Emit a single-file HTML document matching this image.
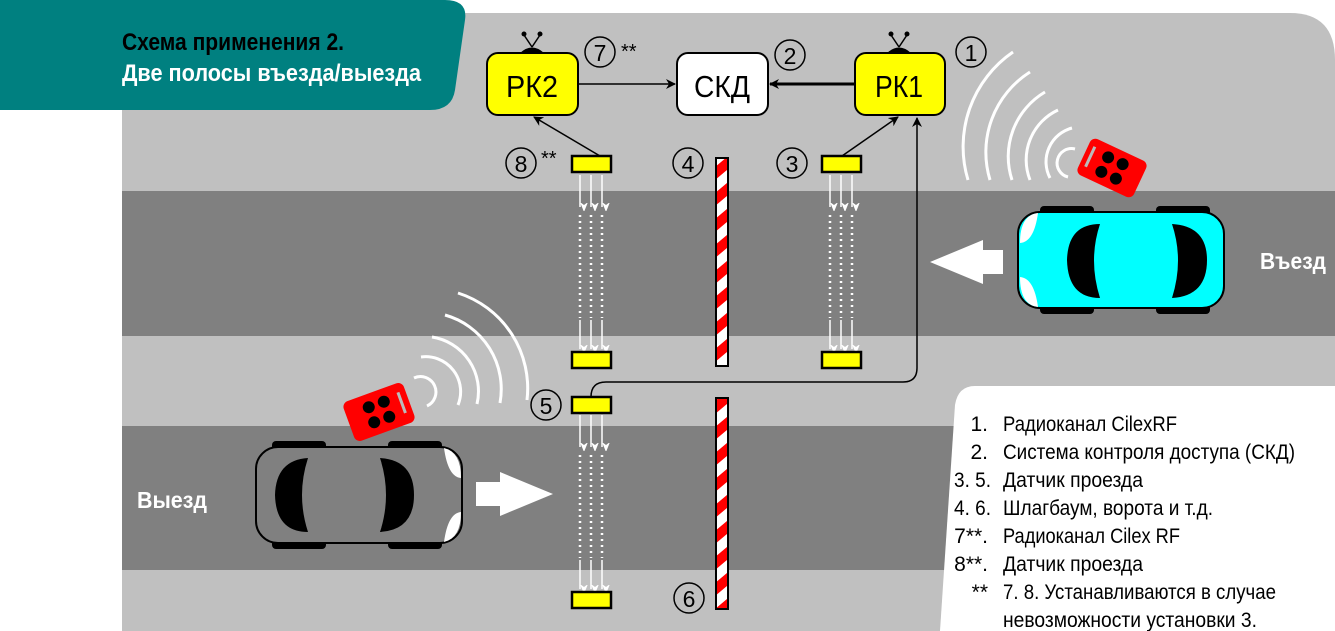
<!DOCTYPE html>
<html><head><meta charset="utf-8"><style>
html,body{margin:0;padding:0;background:#fff;}
svg{display:block;}
text{font-family:"Liberation Sans Narrow","Liberation Sans",sans-serif;}
</style></head><body>
<svg width="1335" height="631" viewBox="0 0 1335 631" xmlns="http://www.w3.org/2000/svg">
<defs>
<marker id="ah" markerWidth="10" markerHeight="10" refX="9" refY="5" orient="auto" markerUnits="userSpaceOnUse"><path d="M0,0 L10,5 L0,10 L3,5 Z" fill="#000"/></marker>
<marker id="wh" markerWidth="8" markerHeight="10" refX="4" refY="9" orient="auto" markerUnits="userSpaceOnUse"><path d="M0,0 L4,10 L8,0 L4,3 Z" fill="#fff" transform="rotate(-90 4 5)"/></marker>
<pattern id="stripe" width="13" height="26" patternUnits="userSpaceOnUse" patternTransform="skewY(-40)"><rect width="13" height="13" fill="#fff"/><rect y="13" width="13" height="13" fill="#f00"/></pattern>
</defs>
<path d="M122,13 H1290 Q1335,13 1335,60 V631 H122 Z" fill="#c0c0c0"/>
<rect x="122" y="191" width="1213" height="145" fill="#808080"/>
<rect x="122" y="426" width="1213" height="144" fill="#808080"/>
<path d="M975,386 H1335 V631 H940 L955,405 Q958,386 975,386 Z" fill="#fff"/>
<path d="M0,0 H445 Q468,0 465,20 L455,90 Q452,110 430,110 H0 Z" fill="#008080"/>
<text x="122" y="50" font-size="24" font-weight="bold" fill="#000" textLength="222" lengthAdjust="spacingAndGlyphs">Схема применения 2.</text>
<text x="122" y="81" font-size="24" font-weight="bold" fill="#fff" textLength="299" lengthAdjust="spacingAndGlyphs">Две полосы въезда/выезда</text>

<line x1="578" y1="84" x2="675" y2="84" stroke="#000" stroke-width="1.5" marker-end="url(#ah)"/>
<line x1="855" y1="84" x2="770" y2="84" stroke="#000" stroke-width="3" marker-end="url(#ah)"/>
<line x1="600" y1="156" x2="534" y2="117" stroke="#000" stroke-width="1.5" marker-end="url(#ah)"/>
<line x1="842" y1="156" x2="898" y2="117" stroke="#000" stroke-width="1.5" marker-end="url(#ah)"/>
<path d="M591,397 Q591,382 606,382 H903 Q917,382 917,368 V118" fill="none" stroke="#000" stroke-width="1.5" marker-end="url(#ah)"/>

<g>
<path d="M520,53 Q532,42 544,53 Z" fill="#000"/><line x1="532" y1="47" x2="524" y2="35" stroke="#000" stroke-width="1.5"/><line x1="532" y1="47" x2="540" y2="35" stroke="#000" stroke-width="1.5"/><circle cx="524" cy="34" r="2.5"/><circle cx="540" cy="34" r="2.5"/>
<rect x="487" y="53" width="91" height="62" rx="11" fill="#ff0" stroke="#000" stroke-width="2"/>
<text x="506" y="97" font-size="31" textLength="52" lengthAdjust="spacingAndGlyphs">РК2</text></g>
<g>
<rect x="677" y="53" width="91" height="62" rx="11" fill="#fff" stroke="#000" stroke-width="2"/>
<text x="694" y="97" font-size="31" textLength="56" lengthAdjust="spacingAndGlyphs">СКД</text></g>
<g>
<path d="M887,53 Q899,42 911,53 Z" fill="#000"/><line x1="899" y1="47" x2="891" y2="35" stroke="#000" stroke-width="1.5"/><line x1="899" y1="47" x2="907" y2="35" stroke="#000" stroke-width="1.5"/><circle cx="891" cy="34" r="2.5"/><circle cx="907" cy="34" r="2.5"/>
<rect x="855" y="53" width="90" height="62" rx="11" fill="#ff0" stroke="#000" stroke-width="2"/>
<text x="875" y="97" font-size="31" textLength="48" lengthAdjust="spacingAndGlyphs">РК1</text></g>

<g fill="none" stroke="#000" stroke-width="1.5">
<circle cx="600" cy="52" r="15"/>
<circle cx="790" cy="55" r="15"/>
<circle cx="971" cy="52" r="15"/>
<circle cx="521" cy="163" r="15"/>
<circle cx="688" cy="163" r="15"/>
<circle cx="792" cy="163" r="15"/>
<circle cx="546" cy="405" r="15"/>
<circle cx="689" cy="598" r="15"/>
</g>
<g font-size="23" text-anchor="middle" fill="#000" font-family="Liberation Serif, serif">
<text x="600" y="61" font-family="Liberation Sans Narrow, Liberation Sans, sans-serif">7</text><text x="790" y="64">2</text><text x="971" y="61">1</text><text x="521" y="172">8</text>
<text x="688" y="172">4</text><text x="792" y="172">3</text><text x="546" y="414">5</text><text x="689" y="607">6</text>
</g>
<g font-size="20" fill="#000"><text x="621" y="58">**</text><text x="541" y="165">**</text></g>

<g stroke="#fff" stroke-width="1.5">
<g id="beamTop"><line x1="580" y1="175" x2="580" y2="207" marker-end="url(#wh)"/><line x1="591" y1="175" x2="591" y2="207" marker-end="url(#wh)"/><line x1="602" y1="175" x2="602" y2="207" marker-end="url(#wh)"/>
<line x1="580" y1="215" x2="580" y2="318" stroke-dasharray="2,4" stroke-width="2.5"/><line x1="591" y1="215" x2="591" y2="318" stroke-dasharray="2,4" stroke-width="2.5"/><line x1="602" y1="215" x2="602" y2="318" stroke-dasharray="2,4" stroke-width="2.5"/>
<line x1="580" y1="320" x2="580" y2="349" marker-end="url(#wh)"/><line x1="591" y1="320" x2="591" y2="349" marker-end="url(#wh)"/><line x1="602" y1="320" x2="602" y2="349" marker-end="url(#wh)"/></g>
<use href="#beamTop" x="250"/>
<use href="#beamTop" x="0" y="240"/>
</g>
<g fill="#ff0" stroke="#000" stroke-width="2.5">
<rect x="572" y="156" width="39" height="16"/>
<rect x="822" y="156" width="39" height="16"/>
<rect x="572" y="352" width="39" height="16"/>
<rect x="822" y="352" width="39" height="16"/>
<rect x="572" y="397" width="39" height="16"/>
<rect x="572" y="592" width="39" height="16"/>
</g>
<rect x="716" y="158" width="12" height="208" fill="url(#stripe)" stroke="#000" stroke-width="2"/>
<rect x="716" y="398" width="12" height="211" fill="url(#stripe)" stroke="#000" stroke-width="2"/>

<path d="M930,262 L983,240 V250 H1003 V274 H983 V284 Z" fill="#fff"/>
<path d="M553,494 L500,472 V482 H476 V506 H500 V516 Z" fill="#fff"/>

<g>
<rect x="1040" y="206" width="54" height="10" rx="4"/><rect x="1156" y="206" width="54" height="10" rx="4"/>
<rect x="1040" y="304" width="54" height="10" rx="4"/><rect x="1156" y="304" width="54" height="10" rx="4"/>
<rect x="1018" y="212" width="206" height="96" rx="22" fill="#0ff" stroke="#000" stroke-width="2"/>
<path d="M1038,213 Q1020,215 1020,243 Q1034,242 1038,213 Z M1038,307 Q1020,305 1020,277 Q1034,278 1038,307 Z" fill="#fff"/>
<path d="M1100,224 Q1068,224 1067,260 Q1068,298 1100,298 Q1088,260 1100,224 Z" fill="#000"/>
<path d="M1172,224 Q1207,226 1207,260 Q1207,296 1172,298 Q1184,260 1172,224 Z" fill="#000"/>
</g>
<text x="1260" y="269" font-size="23" font-weight="bold" fill="#fff" textLength="66" lengthAdjust="spacingAndGlyphs">Въезд</text>
<g>
<rect x="272" y="441" width="54" height="10" rx="4"/><rect x="388" y="441" width="54" height="10" rx="4"/>
<rect x="272" y="539" width="54" height="10" rx="4"/><rect x="388" y="539" width="54" height="10" rx="4"/>
<rect x="256" y="447" width="206" height="96" rx="22" fill="#808080" stroke="#000" stroke-width="2"/>
<path d="M444,448 Q461,452 461,478 Q448,477 444,448 Z M444,542 Q461,538 461,512 Q448,513 444,542 Z" fill="#fff"/>
<path d="M308,458 Q276,460 275,495 Q276,532 308,532 Q296,495 308,458 Z" fill="#000"/>
<path d="M380,458 Q414,460 414,495 Q414,530 380,532 Q392,495 380,458 Z" fill="#000"/>
</g>
<text x="137" y="508" font-size="23" font-weight="bold" fill="#fff" textLength="70" lengthAdjust="spacingAndGlyphs">Выезд</text>

<g transform="translate(1112,168) rotate(25)">
<rect x="-31" y="-20" width="62" height="40" rx="6" fill="#f00"/>
<rect x="-26" y="-12" width="3" height="22" fill="#bbb"/>
<circle cx="-8" cy="-8" r="6"/><circle cx="8" cy="-8" r="6"/><circle cx="-8" cy="8" r="6"/><circle cx="8" cy="8" r="6"/>
</g>
<g transform="translate(379,412) rotate(-20)">
<rect x="-32" y="-21" width="64" height="42" rx="6" fill="#f00"/>
<rect x="23" y="-12" width="3" height="22" fill="#bbb"/>
<circle cx="-8" cy="-8" r="6"/><circle cx="8" cy="-8" r="6"/><circle cx="-8" cy="8" r="6"/><circle cx="8" cy="8" r="6"/>
</g>

<g fill="none" stroke="#fff" stroke-width="3">
<path d="M1075,149 A14,14 0 0 0 1068,177"/>
<path d="M1072,128 A35,35 0 0 0 1050,178"/>
<path d="M1058,110 A55,55 0 0 0 1030,180"/>
<path d="M1045,92 A75,75 0 0 0 1012,180"/>
<path d="M1030,72 A95,95 0 0 0 990,180"/>
<path d="M1013,52 A115,115 0 0 0 968,180"/>
</g>
<g fill="none" stroke="#fff" stroke-width="3">
<path d="M414,378 A15,15 0 0 1 427,406"/>
<path d="M421,357 A35,35 0 0 1 458,405"/>
<path d="M432,337 A55,55 0 0 1 477,404"/>
<path d="M445,315 A77,77 0 0 1 500,403"/>
<path d="M458,293 A100,100 0 0 1 527,400"/>
</g>

<g font-size="21" fill="#000">
<text x="988" y="431" text-anchor="end">1.</text><text x="1003" y="431" textLength="174" lengthAdjust="spacingAndGlyphs">Радиоканал CilexRF</text>
<text x="988" y="459" text-anchor="end">2.</text><text x="1003" y="459" textLength="292" lengthAdjust="spacingAndGlyphs">Система контроля доступа (СКД)</text>
<text x="954" y="487" textLength="37" lengthAdjust="spacingAndGlyphs">3. 5.</text><text x="1003" y="487" textLength="140" lengthAdjust="spacingAndGlyphs">Датчик проезда</text>
<text x="954" y="515" textLength="37" lengthAdjust="spacingAndGlyphs">4. 6.</text><text x="1003" y="515" textLength="210" lengthAdjust="spacingAndGlyphs">Шлагбаум, ворота и т.д.</text>
<text x="988" y="543" text-anchor="end">7**.</text><text x="1003" y="543" textLength="177" lengthAdjust="spacingAndGlyphs">Радиоканал Cilex RF</text>
<text x="988" y="571" text-anchor="end">8**.</text><text x="1003" y="571" textLength="140" lengthAdjust="spacingAndGlyphs">Датчик проезда</text>
<text x="988" y="599" text-anchor="end">**</text><text x="1003" y="599" textLength="273" lengthAdjust="spacingAndGlyphs">7. 8. Устанавливаются в случае</text>
<text x="1003" y="627" textLength="254" lengthAdjust="spacingAndGlyphs">невозможности установки 3.</text>
</g>
</svg>
</body></html>
